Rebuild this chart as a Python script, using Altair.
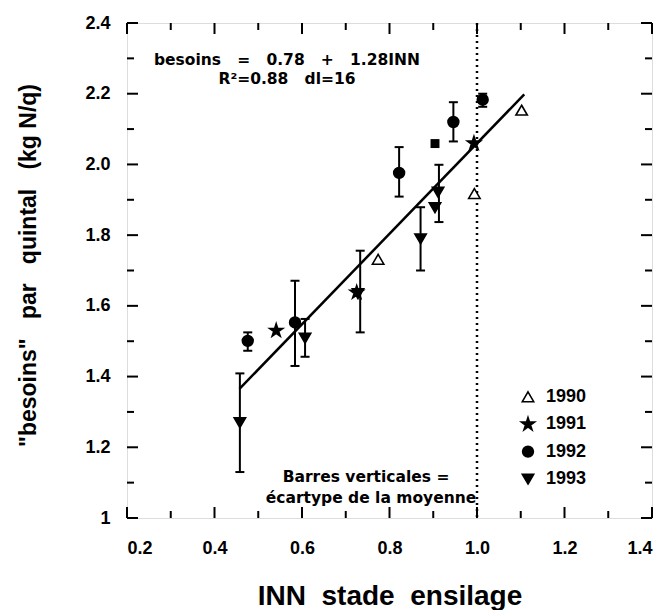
import altair as alt
import pandas as pd

# ---------------- data ----------------
years = ["1990", "1991", "1992", "1993"]

pt_year = ["1990"] * 3 + ["1991"] * 3 + ["1992"] * 5 + ["1993"] * 6
pt_x = [1.102, 0.994, 0.774,
        0.541, 0.725, 0.993,
        1.013, 0.946, 0.822, 0.584, 0.476,
        0.911, 0.904, 0.871, 0.728, 0.607, 0.458]
pt_y = [2.153, 1.917, 1.731,
        1.530, 1.638, 2.060,
        2.183, 2.120, 1.976, 1.553, 1.501,
        1.922, 1.878, 1.790, 1.635, 1.509, 1.270]

# extra square marker
sq_x = [0.904]
sq_y = [2.059]

# error bars (standard error of the mean)
err_x = [1.013, 0.946, 0.822, 0.584, 0.476, 0.913, 0.871, 0.733, 0.607, 0.458]
err_lo = [2.163, 2.065, 1.909, 1.430, 1.473, 1.837, 1.700, 1.525, 1.456, 1.130]
err_hi = [2.200, 2.176, 2.049, 1.671, 1.525, 1.999, 1.879, 1.756, 1.563, 1.409]

# regression line end points (besoins = 0.78 + 1.28 INN)
fit_x = [0.457, 1.108]
fit_y = [1.365, 2.198]

x_major = [0.2, 0.4, 0.6, 0.8, 1.0, 1.2, 1.4]
x_minor = [0.3, 0.5, 0.7, 0.9, 1.1, 1.3]
y_major = [1.0, 1.2, 1.4, 1.6, 1.8, 2.0, 2.2, 2.4]
y_minor = [1.1, 1.3, 1.5, 1.7, 1.9, 2.1, 2.3]

NB = "\u00a0"
eq_lines = ["besoins" + NB * 3 + "=" + NB * 3 + "0.78" + NB * 3 + "+" + NB * 3 + "1.28INN",
            "R²=0.88" + NB * 3 + "dl=16"]
note_lines = ["Barres verticales =", "écartype de la moyenne"]

# ---------------- style / layout ----------------
W, H = 525, 495
TRI_UP = "M0,-0.85L0.95,0.78L-0.95,0.78Z"
TRI_DOWN = "M0,0.85L0.95,-0.78L-0.95,-0.78Z"
STAR = ("M0,-1.15L0.258,-0.355L1.094,-0.355L0.417,0.136L0.676,0.93L0,0.439"
        "L-0.676,0.93L-0.417,0.136L-1.094,-0.355L-0.258,-0.355Z")
CIRCLE = "M-0.9,0A0.9,0.9 0 1,0 0.9,0A0.9,0.9 0 1,0 -0.9,0Z"
shape_range = [TRI_UP, STAR, CIRCLE, TRI_DOWN]
fill_range = ["white", "black", "black", "black"]
SYM_SIZE = 144

LAB_FONT = "Liberation Sans"
ANN_FONT = "DejaVu Sans"

xs = alt.Scale(domain=[0.2, 1.4], nice=False, zero=False)
ys = alt.Scale(domain=[1.0, 2.4], nice=False, zero=False)

xaxis = alt.Axis(values=x_major, format=".1f", domain=False, ticks=False, grid=False,
                 labelFont=LAB_FONT, labelFontSize=18, labelFontWeight="bold",
                 labelColor="black", labelPadding=21,
                 title="INN" + NB * 2 + "stade" + NB * 2 + "ensilage", titleFont=LAB_FONT,
                 titleFontSize=28, titleFontWeight="bold", titleColor="black",
                 titleY=86, titleBaseline="alphabetic")
yaxis = alt.Axis(values=y_major, domain=False, ticks=False, grid=False,
                 labelExpr="datum.value == 1 ? '1' : format(datum.value, '.1f')",
                 labelFont=LAB_FONT, labelFontSize=18, labelFontWeight="bold",
                 labelColor="black", labelPadding=17,
                 title='"besoins"' + NB * 3 + 'par' + NB * 3 + 'quintal' + NB * 3 + '(kg' + NB + 'N/q)',
                 titleFont=LAB_FONT, titleFontSize=23, titleFontWeight="bold",
                 titleColor="black", titleX=-99, titleY=242, titleAngle=270,
                 titleBaseline="middle", titleAlign="center")

base_df = pd.DataFrame({"x": pt_x, "y": pt_y, "year": pt_year})

# error bars
err_df = pd.DataFrame({"x": err_x, "lo": err_lo, "hi": err_hi})
bars = alt.Chart(err_df).mark_rule(color="black", strokeWidth=2).encode(
    x=alt.X("x:Q", scale=xs, axis=xaxis),
    y=alt.Y("lo:Q", scale=ys, axis=yaxis),
    y2="hi:Q",
)
caps_df = pd.DataFrame({"x": err_x + err_x, "y": err_lo + err_hi})
caps = alt.Chart(caps_df).mark_tick(color="black", orient="horizontal", size=9,
                                    thickness=2, opacity=1).encode(
    x=alt.X("x:Q", scale=xs), y=alt.Y("y:Q", scale=ys))

# regression line
fit = alt.Chart(pd.DataFrame({"x": fit_x, "y": fit_y})).mark_line(
    color="black", strokeWidth=2.5).encode(
    x=alt.X("x:Q", scale=xs), y=alt.Y("y:Q", scale=ys))

# dotted vertical line at INN = 1
vline = alt.Chart(pd.DataFrame({"x": [1.0]})).mark_rule(
    color="black", strokeWidth=2.5, strokeDash=[2, 4]).encode(
    x=alt.X("x:Q", scale=xs))

points = alt.Chart(base_df).mark_point(filled=True, stroke="black", strokeWidth=1.6,
                                       opacity=1, size=SYM_SIZE).encode(
    x=alt.X("x:Q", scale=xs),
    y=alt.Y("y:Q", scale=ys),
    shape=alt.Shape("year:N", scale=alt.Scale(domain=years, range=shape_range), legend=None),
    fill=alt.Fill("year:N", scale=alt.Scale(domain=years, range=fill_range), legend=None),
)

square = alt.Chart(pd.DataFrame({"x": sq_x, "y": sq_y})).mark_square(
    color="black", size=80, opacity=1).encode(
    x=alt.X("x:Q", scale=xs), y=alt.Y("y:Q", scale=ys))

# inward ticks (all four sides)
def vticks(vals, y0, y1):
    return alt.Chart(pd.DataFrame({"v": vals})).mark_rule(color="black", strokeWidth=2).encode(
        x=alt.X("v:Q", scale=xs), y=alt.value(y0), y2=alt.value(y1))

def hticks(vals, x0, x1):
    return alt.Chart(pd.DataFrame({"v": vals})).mark_rule(color="black", strokeWidth=2).encode(
        y=alt.Y("v:Q", scale=ys), x=alt.value(x0), x2=alt.value(x1))

ticks = [
    vticks(x_major, H - 11, H), vticks(x_minor, H - 7, H),
    vticks(x_major, 0, 11), vticks(x_minor, 0, 7),
    hticks(y_major, 0, 11), hticks(y_minor, 0, 7),
    hticks(y_major, W - 11, W), hticks(y_minor, W - 7, W),
]

# annotations
def txt(s, size, x, y, font=ANN_FONT, align="center", baseline="alphabetic"):
    return alt.Chart(pd.DataFrame({"t": [s]})).mark_text(
        font=font, fontSize=size, fontWeight="bold", color="black",
        align=align, baseline=baseline).encode(
        text="t:N", x=alt.value(x), y=alt.value(y))

eq1 = txt(eq_lines[0], 15.5, 160, 42)
eq2 = txt(eq_lines[1], 15.5, 160, 61)
n1 = txt(note_lines[0], 15.5, 239, 459)
n2 = txt(note_lines[1], 15.5, 244, 480)

# legend (drawn in the plot, lower right)
LEG_X, LEG_Y0, LEG_ROW = 401, 374, 27.3
legend_layers = []
for i, yr in enumerate(years):
    yy = LEG_Y0 + i * LEG_ROW
    legend_layers.append(
        alt.Chart(pd.DataFrame({"year": [yr]})).mark_point(
            shape=shape_range[i], fill=fill_range[i], filled=True, stroke="black",
            strokeWidth=1.6, opacity=1, size=SYM_SIZE).encode(
            x=alt.value(LEG_X), y=alt.value(yy)))
    legend_layers.append(txt(yr, 18, LEG_X + 18, yy, font=LAB_FONT,
                             align="left", baseline="middle"))

chart = alt.layer(
    bars, caps, fit, vline, *ticks, square, points, eq1, eq2, n1, n2, *legend_layers
).properties(
    width=W, height=H,
    autosize=alt.AutoSizeParams(type="none"),
    padding={"left": 119, "top": 15, "right": 11, "bottom": 92},
).configure_view(stroke="black", strokeWidth=2.5).configure(background="white")

chart.save("out.html", embed_options={"renderer": "svg", "actions": False})
